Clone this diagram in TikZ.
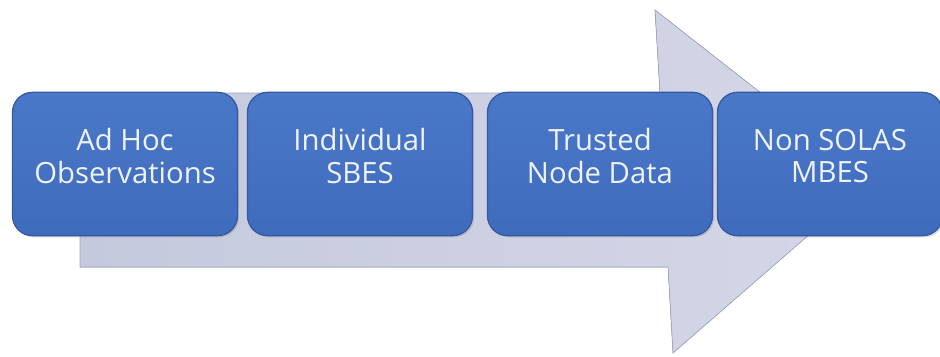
\documentclass[tikz,border=0pt]{standalone}
\usepackage{fontspec}
\setmainfont{Open Sans}
\usepackage{tikz}
\usetikzlibrary{shadows}
\definecolor{boxlight}{HTML}{4A78C9}
\definecolor{boxdark}{HTML}{3F6BBC}
\definecolor{boxedge}{HTML}{3558A0}
\definecolor{boxtext}{HTML}{EEF2FA}
\definecolor{arrowgray}{HTML}{C5C9DD}
\definecolor{arrowlight}{HTML}{D4D7E7}
\definecolor{arrowedge}{HTML}{A3A7BA}

\tikzset{
  stagebox/.style={rounded corners=0.6cm, minimum width=6.75cm, minimum height=4.3cm,
    top color=boxlight, bottom color=boxdark, draw=boxedge, line width=1.1pt,
    drop shadow={shadow xshift=0.05cm, shadow yshift=-0.05cm, opacity=0.3}},
  stagetext/.style={text=boxtext, align=center, font=\fontsize{25}{27.5}\selectfont}
}

\begin{document}
\begin{tikzpicture}[x=0.03cm, y=-0.03cm]
    \useasboundingbox (0,0) rectangle (940,356);

    % big arrow behind the stages
    \coordinate (S1) at (80,93);
    \coordinate (S2) at (660,93);
    \coordinate (H1) at (655,10);
    \coordinate (T) at (872,180);
    \coordinate (H2) at (673,353);
    \coordinate (S3) at (668,267);
    \coordinate (S4) at (80,267);
    \fill[left color=arrowgray, right color=arrowlight, draw=arrowedge, line width=0.6pt]
        (S1) -- (S2) -- (H1) -- (T) -- (H2) -- (S3) -- (S4) -- cycle;

    % stages
    \node[stagebox] (adhoc) at (125,164) {};
    \node[stagebox] (sbes) at (360,164) {};
    \node[stagebox] (trusted) at (600,164) {};
    \node[stagebox] (mbes) at (830,164) {};

    % stage labels, a bit above the middle
    \node[stagetext] (adhoc-t) at ([yshift=0.24cm]adhoc.center) {Ad Hoc\\Observations};
    \node[stagetext] (sbes-t) at ([yshift=0.24cm]sbes.center) {Individual\\SBES};
    \node[stagetext] (trusted-t) at ([yshift=0.24cm]trusted.center) {Trusted\\Node Data};
    \node[stagetext] (mbes-t) at ([yshift=0.24cm]mbes.center) {Non SOLAS\\MBES};
\end{tikzpicture}
\end{document}
